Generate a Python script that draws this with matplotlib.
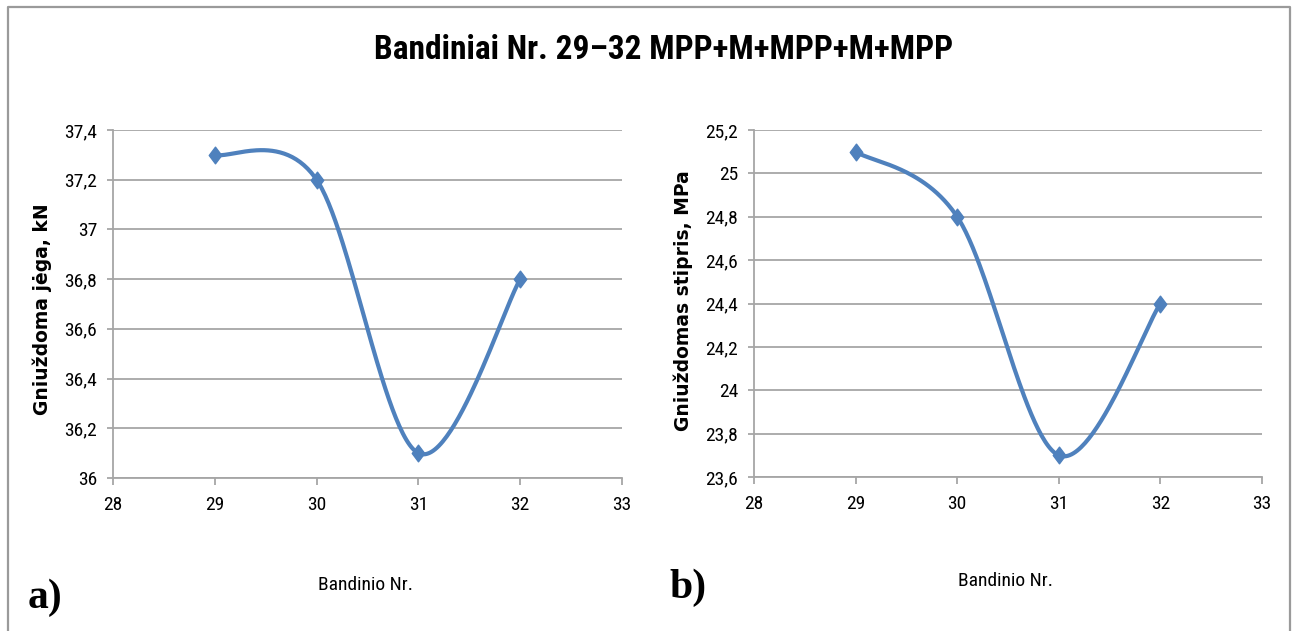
import numpy as np
import matplotlib
matplotlib.use("Agg")
import matplotlib.pyplot as plt
from matplotlib.lines import Line2D
from matplotlib.path import Path

# ---- data ----
samples = [29, 30, 31, 32]
force_kN = [37.3, 37.2, 36.1, 36.8]
strength_MPa = [25.1, 24.8, 23.7, 24.4]

x_ticks = [28, 29, 30, 31, 32, 33]
yticks_a = [36.0, 36.2, 36.4, 36.6, 36.8, 37.0, 37.2, 37.4]
yticks_b = [23.6, 23.8, 24.0, 24.2, 24.4, 24.6, 24.8, 25.0, 25.2]

title = "Bandiniai Nr. 29\u201332 MPP+M+MPP+M+MPP"
xlabel = "Bandinio Nr."
ylabel_a = "Gniuždoma jėga, kN"
ylabel_b = "Gniuždomas stipris, MPa"

NARROW = ["Roboto Condensed", "DejaVu Sans"]
BLUE = "#4F81BD"
GRID = "#A6A6A6"

DIAMOND = Path([(-0.75, 0), (0, 1), (0.75, 0), (0, -1), (-0.75, 0)],
               [Path.MOVETO, Path.LINETO, Path.LINETO, Path.LINETO, Path.CLOSEPOLY])


def fmt(v):
    s = ("%.1f" % v).rstrip("0").rstrip(".")
    return s.replace(".", ",")


def excel_smooth(xs, ys, n=60):
    # Excel-like smoothed line: Bezier segments with Catmull-Rom tangents
    P = np.column_stack([xs, ys]).astype(float)
    out = []
    m = len(P)
    for i in range(m - 1):
        p0 = P[i - 1] if i > 0 else P[i]
        p1 = P[i]
        p2 = P[i + 1]
        p3 = P[i + 2] if i + 2 < m else P[i + 1]
        c1 = p1 + (p2 - p0) / 6.0
        c2 = p2 - (p3 - p1) / 6.0
        t = np.linspace(0, 1, n)[:, None]
        seg = ((1 - t) ** 3) * p1 + 3 * ((1 - t) ** 2) * t * c1 + 3 * (1 - t) * t ** 2 * c2 + t ** 3 * p2
        out.append(seg if i == 0 else seg[1:])
    out = np.vstack(out)
    return out[:, 0], out[:, 1]


fig = plt.figure(figsize=(12.96, 6.31), dpi=100)
W, H = 1296, 631


def fx(px):
    return px / W


def fy(py):
    return 1 - py / H


# outer frame
fig.add_artist(Line2D([fx(8), fx(8), fx(1290), fx(1290)], [0, fy(7), fy(7), 0],
                      transform=fig.transFigure, color="#9A9A9A", lw=1.6))


def make_panel(rect, ys, yticks, ylabel, ylab_pos, xlab_pos, letter, letter_pos):
    ax = fig.add_axes(rect)
    xs_s, ys_s = excel_smooth(samples, ys)
    ax.plot(xs_s, ys_s, color=BLUE, lw=3.0, solid_capstyle="round", zorder=3)
    ax.plot(samples, ys, linestyle="none", marker=DIAMOND, markersize=12,
            color=BLUE, zorder=4)
    ax.set_xlim(28, 33)
    ax.set_ylim(yticks[0], yticks[-1])
    ax.set_xticks(x_ticks)
    ax.set_xticklabels([str(t) for t in x_ticks], family=NARROW, fontsize=14)
    ax.set_yticks(yticks)
    ax.set_yticklabels([fmt(t) for t in yticks], family=NARROW, fontsize=14)
    ax.grid(axis="y", color=GRID, lw=1.3)
    ax.set_axisbelow(True)
    for s in ["top", "right"]:
        ax.spines[s].set_visible(False)
    for s in ["left", "bottom"]:
        ax.spines[s].set_color(GRID)
        ax.spines[s].set_linewidth(1.3)
    ax.tick_params(axis="y", length=4.5, color=GRID, width=1.3, pad=7)
    ax.tick_params(axis="x", length=5, color=GRID, width=1.3, pad=8)
    ax.set_facecolor("none")
    fig.text(fx(ylab_pos[0]), fy(ylab_pos[1]), ylabel, rotation=90, ha="center", va="center",
             fontsize=13.5, fontweight="bold", family=["DejaVu Sans"])
    fig.text(fx(xlab_pos[0]), fy(xlab_pos[1]), xlabel, ha="center", va="center",
             fontsize=14, family=NARROW)
    fig.text(fx(letter_pos[0]), fy(letter_pos[1]), letter, ha="center", va="center",
             fontsize=30, fontweight="bold", family=["Liberation Serif"])
    return ax


make_panel([fx(113), fy(478), fx(622) - fx(113), fy(130) - fy(478)],
           force_kN, yticks_a, ylabel_a, (42, 309), (366, 585), "a)", (45, 598))
make_panel([fx(754), fy(477), fx(1262) - fx(754), fy(130) - fy(477)],
           strength_MPa, yticks_b, ylabel_b, (683, 301), (1006, 581), "b)", (688, 588))

fig.text(fx(664), fy(50), title, ha="center", va="center", fontsize=24,
         fontweight="bold", family=NARROW)

fig.savefig("out.png", dpi=100)
